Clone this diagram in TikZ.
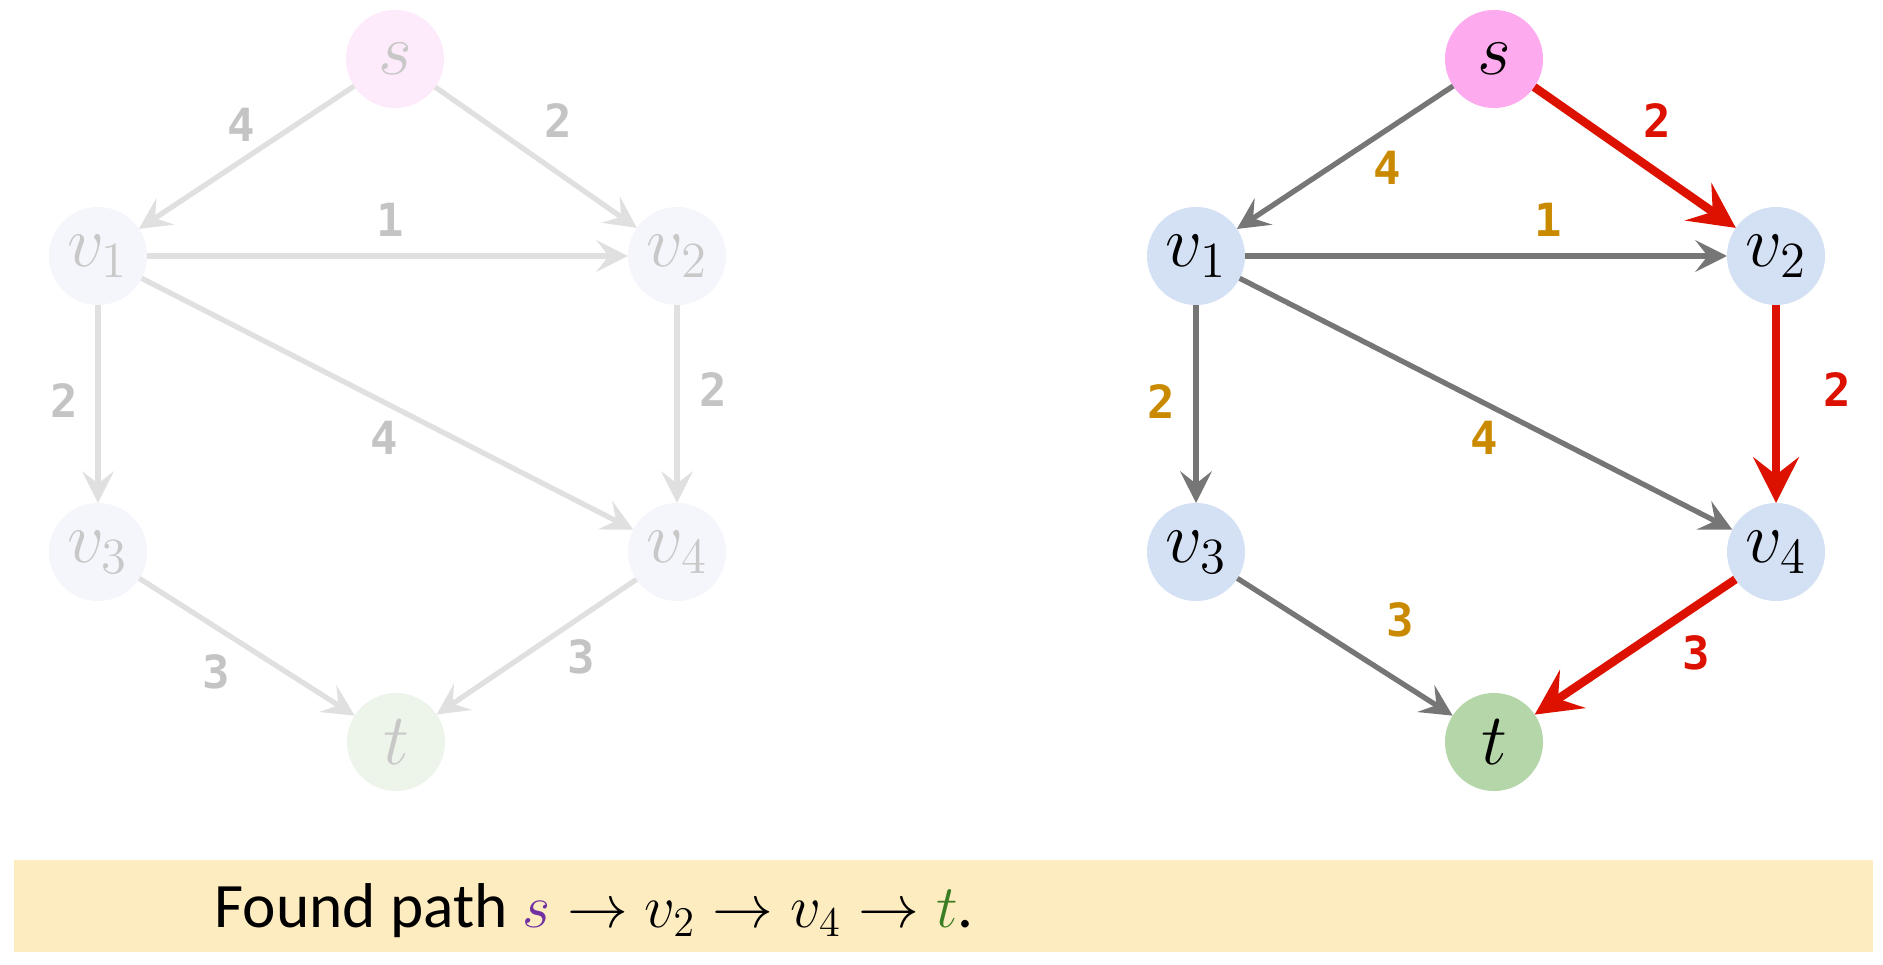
\documentclass[tikz,border=0pt]{standalone}
\usepackage{fontspec}
\setmainfont{Carlito}
\newfontfamily\labfont{DejaVu Sans Mono}
\DeclareMathSizes{21}{21}{15.5}{11}
\DeclareMathSizes{18}{18}{13}{10}
\usetikzlibrary{arrows.meta}
\definecolor{fsfill}{HTML}{FDEAFA}
\definecolor{fvfill}{HTML}{F5F6FC}
\definecolor{ftfill}{HTML}{EDF5EA}
\definecolor{ftext}{HTML}{C8C8C8}
\definecolor{fedge}{HTML}{E0E0E0}
\definecolor{flab}{HTML}{C4C4C4}
\definecolor{sfill}{HTML}{FDABEE}
\definecolor{vfill}{HTML}{D4E0F4}
\definecolor{tfill}{HTML}{B4D6A8}
\definecolor{gedgec}{HTML}{767676}
\definecolor{olab}{HTML}{C98A00}
\definecolor{redc}{HTML}{DD1100}
\definecolor{bannerc}{HTML}{FEECC1}
\definecolor{spurple}{HTML}{7030A0}
\definecolor{tgreen}{HTML}{3A7D22}
\tikzset{
  vtx/.style={circle, minimum size=0.98cm, inner sep=0pt, outer sep=0pt, font=\fontsize{21}{24}\selectfont},
  fedgest/.style={draw=fedge, line width=1.5pt, -{Stealth[length=9pt,width=9pt,inset=3.5pt]}},
  gedgest/.style={draw=gedgec, line width=1.5pt, -{Stealth[length=9pt,width=9pt,inset=3.5pt]}},
  redgest/.style={draw=redc, line width=2.4pt, -{Stealth[length=13pt,width=13pt,inset=5pt]}},
  lab/.style={inner sep=0pt, font=\labfont\bfseries\fontsize{13}{15}\selectfont},
}
\begin{document}
\begin{tikzpicture}[x=0.01cm,y=-0.01cm]
\useasboundingbox (0,0) rectangle (1883,964);
% ---------- left (faded) graph ----------
\node[vtx, fill=fsfill, text=ftext] (ls) at (395,59) {$s$};
\node[vtx, fill=fvfill, text=ftext] (lv1) at (98,256) {$v_1$};
\node[vtx, fill=fvfill, text=ftext] (lv2) at (677,256) {$v_2$};
\node[vtx, fill=fvfill, text=ftext] (lv3) at (98,552) {$v_3$};
\node[vtx, fill=fvfill, text=ftext] (lv4) at (677,552) {$v_4$};
\node[vtx, fill=ftfill, text=ftext] (lt) at (396,742) {$t$};
\draw[fedgest] (ls) -- (lv1);
\draw[fedgest] (ls) -- (lv2);
\draw[fedgest] (lv1) -- (lv2);
\draw[fedgest] (lv1) -- (lv3);
\draw[fedgest] (lv1) -- (lv4);
\draw[fedgest] (lv2) -- (lv4);
\draw[fedgest] (lv3) -- (lt);
\draw[fedgest] (lv4) -- (lt);
\node[lab, text=flab] (ll1) at (241,125) {4};
\node[lab, text=flab] (ll2) at (558,121) {2};
\node[lab, text=flab] (ll3) at (390,220) {1};
\node[lab, text=flab] (ll4) at (64,401) {2};
\node[lab, text=flab] (ll5) at (384,438) {4};
\node[lab, text=flab] (ll6) at (713,390) {2};
\node[lab, text=flab] (ll7) at (216,672) {3};
\node[lab, text=flab] (ll8) at (581,657) {3};
% ---------- right graph ----------
\node[vtx, fill=sfill] (rs) at (1494,59) {$s$};
\node[vtx, fill=vfill] (rv1) at (1196,256) {$v_1$};
\node[vtx, fill=vfill] (rv2) at (1776,256) {$v_2$};
\node[vtx, fill=vfill] (rv3) at (1196,552) {$v_3$};
\node[vtx, fill=vfill] (rv4) at (1776,552) {$v_4$};
\node[vtx, fill=tfill] (rt) at (1494,742) {$t$};
\draw[gedgest] (rs) -- (rv1);
\draw[redgest] (rs) -- (rv2);
\draw[gedgest] (rv1) -- (rv2);
\draw[gedgest] (rv1) -- (rv3);
\draw[gedgest] (rv1) -- (rv4);
\draw[redgest] (rv2) -- (rv4);
\draw[gedgest] (rv3) -- (rt);
\draw[redgest] (rv4) -- (rt);
\node[lab, text=olab] (rl1) at (1387,168) {4};
\node[lab, text=redc] (rl2) at (1657,121) {2};
\node[lab, text=olab] (rl3) at (1548,220) {1};
\node[lab, text=olab] (rl4) at (1161,402) {2};
\node[lab, text=olab] (rl5) at (1484,438) {4};
\node[lab, text=redc] (rl6) at (1837,390) {2};
\node[lab, text=olab] (rl7) at (1400,620) {3};
\node[lab, text=redc] (rl8) at (1696,653) {3};
% ---------- banner ----------
\fill[bannerc] (14,860) rectangle (1873,952);
\node[anchor=base west, inner sep=0pt, font=\fontsize{18}{22}\selectfont] (msg) at (214,927)
  {Found path $\textcolor{spurple}{s}\to v_2\to v_4\to \textcolor{tgreen}{t}$.};
\end{tikzpicture}
\end{document}
